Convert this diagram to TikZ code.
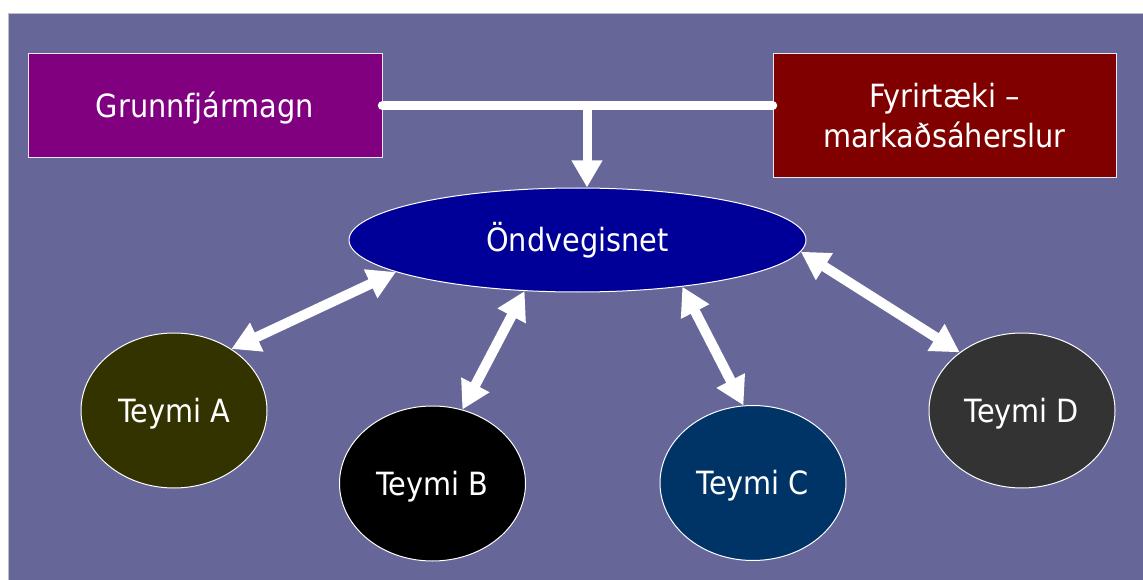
\documentclass[tikz,border=0pt]{standalone}
\usepackage{fontspec}
\setmainfont{DejaVu Sans Condensed}
\usetikzlibrary{shapes.geometric,arrows.meta}
\definecolor{bg}{HTML}{666699}
\definecolor{grpurple}{HTML}{800080}
\definecolor{fyred}{HTML}{800000}
\definecolor{ondblue}{HTML}{000099}
\definecolor{tacol}{HTML}{333300}
\definecolor{tbcol}{HTML}{000000}
\definecolor{tccol}{HTML}{003366}
\definecolor{tdcol}{HTML}{333333}
\tikzset{
  txt/.style={text=white, font=\fontsize{32}{40}\selectfont},
  boxnode/.style={txt, rectangle, draw=white!85!bg, line width=1pt, inner sep=0pt},
  ellnode/.style={txt, ellipse, draw=white, line width=1pt, inner sep=0pt, text height=23pt, text depth=0pt},
  team/.style={ellnode, minimum width=186pt, minimum height=155pt},
  dbl/.style={white, line width=10pt, {Triangle[width=30pt,length=28pt]}-{Triangle[width=30pt,length=28pt]}},
  onearrow/.style={white, line width=9pt, -{Triangle[width=29pt,length=27pt]}},
  barline/.style={white, line width=9.5pt, line cap=round}
}
\begin{document}
\begin{tikzpicture}[x=1pt,y=-1pt]
\useasboundingbox (0,0) rectangle (1143,580);
\fill[white] (0,0) rectangle (1143,580);
\filldraw[fill=bg, draw=black!25, line width=1pt] (8.5,13.5) rectangle (1146,583);

\node[boxnode, fill=grpurple, minimum width=354pt, minimum height=104pt, text height=23pt, text depth=0pt] (g) at (205,106) {Grunnfjármagn};
\node[boxnode, fill=fyred, minimum width=343pt, minimum height=124pt, align=center] (f) at (944.5,116) {Fyrirtæki –\\markaðsáherslur};

\node[ellnode, fill=ondblue, minimum width=457pt, minimum height=104pt] (o) at (577.5,240) {Öndvegisnet};

\node[team, fill=tacol] (ta) at (174,410.5) {Teymi A};
\node[team, fill=tbcol] (tb) at (432.5,483.5) {Teymi B};
\node[team, fill=tccol] (tc) at (753,483) {Teymi C};
\node[team, fill=tdcol] (td) at (1022,410.5) {Teymi D};

\draw[barline] (g.east |- 0,105.7) -- (f.west |- 0,105.7);
\coordinate (j) at (587,105.7);
\draw[onearrow] (j) -- (j |- o.north);

\draw[dbl] (ta.47) -- (o.190);
\draw[dbl] (tb.68) -- (o.224);
\draw[dbl] (tc.97) -- (o.336);
\draw[dbl] (td.137) -- (o.357);
\end{tikzpicture}
\end{document}
